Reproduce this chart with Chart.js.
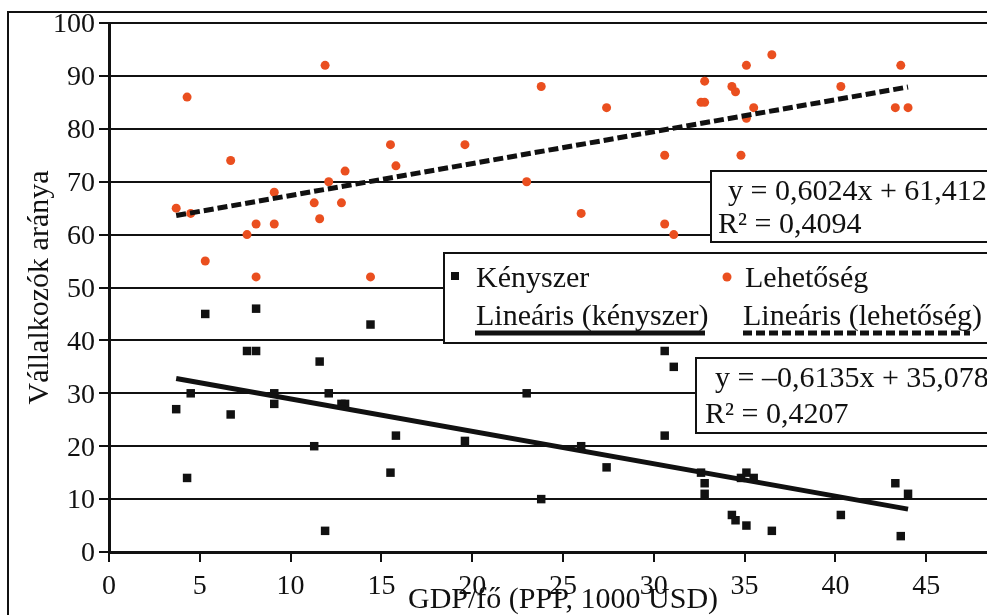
<!DOCTYPE html>
<html lang="hu">
<head>
<meta charset="utf-8">
<title>Vállalkozók aránya és GDP/fő</title>
<script src="https://cdn.jsdelivr.net/npm/chart.js@4.4.1/dist/chart.umd.min.js"></script>
<style>
  html, body { margin: 0; padding: 0; background: #fff; overflow: hidden; }
  #wrap { width: 987px; height: 615px; overflow: hidden; }
  canvas { display: block; }
</style>
</head>
<body>
<div id="wrap"><canvas id="chart" width="1040" height="640"></canvas></div>
<script>
(function () {
    'use strict';

    // GDP/fő (PPP, 1000 USD), one entry per country
    var gdp = [3.7, 4.3, 4.5, 5.3, 6.7, 7.6, 8.1, 8.1, 9.1, 9.1,
        11.3, 11.6, 11.9, 12.1, 12.8, 13.0, 14.4, 15.5, 15.8, 19.6,
        23.0, 23.8, 26.0, 27.4, 30.6, 30.6, 31.1, 32.6, 32.8, 32.8,
        34.3, 34.5, 34.8, 35.1, 35.1, 35.5, 36.5, 40.3, 43.3, 43.6, 44.0];

    // share of necessity-driven entrepreneurs (%)
    var kenyszer = [27, 14, 30, 45, 26, 38, 38, 46, 30, 28,
        20, 36, 4, 30, 28, 28, 43, 15, 22, 21,
        30, 10, 20, 16, 38, 22, 35, 15, 13, 11,
        7, 6, 14, 15, 5, 14, 4, 7, 13, 3, 11];

    // share of opportunity-driven entrepreneurs (%)
    var lehetoseg = [65, 86, 64, 55, 74, 60, 62, 52, 68, 62,
        66, 63, 92, 70, 66, 72, 52, 77, 73, 77,
        70, 88, 64, 84, 62, 75, 60, 85, 85, 89,
        88, 87, 75, 82, 92, 84, 94, 88, 84, 92, 84];

    // linear trend lines, end points
    var trendX = [3.7, 44.0];
    var kenyszerTrend = [32.8, 8.1];
    var lehetosegTrend = [63.6, 87.9];

    var seriesNames = ['Kényszer', 'Lehetőség', 'Lineáris (kényszer)', 'Lineáris (lehetőség)'];
    var kenyszerEq = ['y = –0,6135x + 35,078', 'R² = 0,4207'];
    var lehetosegEq = ['y = 0,6024x + 61,412', 'R² = 0,4094'];

    var xTitle = 'GDP/fő (PPP, 1000 USD)';
    var yTitle = 'Vállalkozók aránya';

    var serif = "'Liberation Serif', 'Times New Roman', serif";
    var ink = '#111';
    var orange = '#EA4F1F';

    var toPoints = function (xs, ys) {
        var pts = [];
        for (var i = 0; i < xs.length; i++) {
            pts.push({ x: xs[i], y: ys[i] });
        }
        return pts;
    };

    // white page with the outer frame (left and top edge only, rest is cropped)
    var framePlugin = {
        id: 'frame',
        beforeDraw: function (chart) {
            var ctx = chart.ctx;
            ctx.save();
            ctx.fillStyle = '#fff';
            ctx.fillRect(0, 0, chart.width, chart.height);
            ctx.strokeStyle = ink;
            ctx.lineWidth = 2;
            ctx.beginPath();
            ctx.moveTo(8, chart.height);
            ctx.lineTo(8, 12);
            ctx.lineTo(chart.width, 12);
            ctx.stroke();
            ctx.restore();
        }
    };

    var drawBox = function (ctx, x, y, w, h) {
        ctx.fillStyle = '#fff';
        ctx.fillRect(x, y, w, h);
        ctx.strokeStyle = ink;
        ctx.lineWidth = 2;
        ctx.strokeRect(x, y, w, h);
    };

    // legend and the two equation labels
    var boxPlugin = {
        id: 'boxes',
        afterDraw: function (chart) {
            var ctx = chart.ctx;
            ctx.save();
            ctx.font = '30px ' + serif;
            ctx.textBaseline = 'alphabetic';

            drawBox(ctx, 444, 253, 600, 90);
            ctx.fillStyle = ink;
            ctx.fillRect(451, 272, 8, 8);
            ctx.fillText(seriesNames[0], 476, 287);
            ctx.fillStyle = orange;
            ctx.beginPath();
            ctx.arc(727, 277, 4.5, 0, Math.PI * 2);
            ctx.fill();
            ctx.fillStyle = ink;
            ctx.fillText(seriesNames[1], 745, 287);
            ctx.fillText(seriesNames[2], 476, 325);
            ctx.fillText(seriesNames[3], 743, 325);

            ctx.strokeStyle = ink;
            ctx.lineWidth = 5;
            ctx.beginPath();
            ctx.moveTo(475, 333);
            ctx.lineTo(705, 333);
            ctx.stroke();
            ctx.setLineDash([9, 4]);
            ctx.beginPath();
            ctx.moveTo(743, 333);
            ctx.lineTo(970, 333);
            ctx.stroke();
            ctx.setLineDash([]);

            drawBox(ctx, 711, 171, 400, 71);
            ctx.fillStyle = ink;
            ctx.fillText(lehetosegEq[0], 728, 200);
            ctx.fillText(lehetosegEq[1], 718, 233);

            drawBox(ctx, 696, 358, 400, 75);
            ctx.fillStyle = ink;
            ctx.fillText(kenyszerEq[0], 715, 387);
            ctx.fillText(kenyszerEq[1], 705, 423);
            ctx.restore();
        }
    };

    var ctx = document.getElementById('chart').getContext('2d');

    new Chart(ctx, {
        type: 'scatter',
        data: {
            datasets: [
                {
                    label: seriesNames[2],
                    data: toPoints(trendX, kenyszerTrend),
                    showLine: true,
                    borderColor: ink,
                    borderWidth: 5,
                    pointRadius: 0,
                    order: 0
                },
                {
                    label: seriesNames[3],
                    data: toPoints(trendX, lehetosegTrend),
                    showLine: true,
                    borderColor: ink,
                    borderWidth: 5,
                    borderDash: [10, 4],
                    pointRadius: 0,
                    order: 0
                },
                {
                    label: seriesNames[0],
                    data: toPoints(gdp, kenyszer),
                    pointStyle: 'rect',
                    pointRadius: 6,
                    backgroundColor: ink,
                    borderWidth: 0,
                    order: 1
                },
                {
                    label: seriesNames[1],
                    data: toPoints(gdp, lehetoseg),
                    pointStyle: 'circle',
                    pointRadius: 4.5,
                    backgroundColor: orange,
                    borderWidth: 0,
                    order: 1
                }
            ]
        },
        options: {
            responsive: false,
            animation: false,
            devicePixelRatio: 1,
            layout: {
                padding: { left: 10, top: 23, right: 23, bottom: 0 }
            },
            plugins: {
                legend: { display: false },
                tooltip: { enabled: false }
            },
            scales: {
                x: {
                    type: 'linear',
                    min: 0,
                    max: 50,
                    ticks: {
                        stepSize: 5,
                        color: ink,
                        padding: 8,
                        font: { family: serif, size: 28 }
                    },
                    grid: {
                        drawOnChartArea: false,
                        color: ink,
                        lineWidth: 2,
                        tickLength: 10
                    },
                    border: { color: ink, width: 3 },
                    title: {
                        display: true,
                        text: xTitle,
                        color: ink,
                        font: { family: serif, size: 30 },
                        padding: { top: 0, bottom: 22 }
                    },
                    afterFit: function (scale) { scale.height = 88; }
                },
                y: {
                    min: 0,
                    max: 100,
                    ticks: {
                        stepSize: 10,
                        color: ink,
                        padding: 4,
                        labelOffset: 2,
                        font: { family: serif, size: 28 }
                    },
                    grid: {
                        color: ink,
                        lineWidth: 2,
                        tickLength: 10
                    },
                    border: { color: ink, width: 3 },
                    title: {
                        display: true,
                        text: yTitle,
                        color: ink,
                        font: { family: serif, size: 30 },
                        padding: { top: 12, bottom: 0 }
                    },
                    afterFit: function (scale) { scale.width = 99; }
                }
            }
        },
        plugins: [framePlugin, boxPlugin]
    });
})();
</script>
</body>
</html>
